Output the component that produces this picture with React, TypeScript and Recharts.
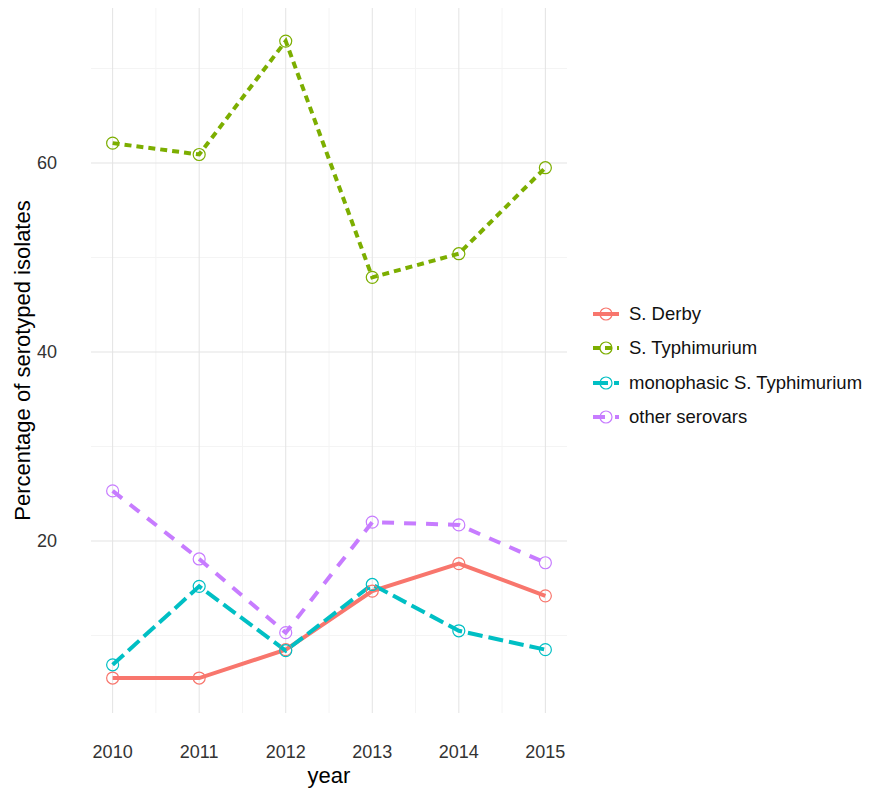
import { LineChart, Line, XAxis, YAxis, CartesianGrid, Legend } from 'recharts'

const years = [2010, 2011, 2012, 2013, 2014, 2015]
const derby = [5.5, 5.5, 8.5, 14.7, 17.6, 14.2]
const typhimurium = [62.1, 60.9, 72.9, 47.9, 50.4, 59.5]
const monophasic = [6.9, 15.2, 8.4, 15.4, 10.5, 8.5]
const otherSerovars = [25.3, 18.1, 10.3, 22.0, 21.7, 17.7]

const yTicks = [20, 40, 60]
const yMinor = [10, 30, 50, 70]
const xMinor = [2010.5, 2011.5, 2012.5, 2013.5, 2014.5]

const series = [
  { key: 'derby', name: 'S. Derby', color: '#F8766D', dash: undefined as string | undefined },
  { key: 'typhimurium', name: 'S. Typhimurium', color: '#7CAE00', dash: '7 5' },
  { key: 'monophasic', name: 'monophasic S. Typhimurium', color: '#00BFC4', dash: '15 6' },
  { key: 'other', name: 'other serovars', color: '#C77CFF', dash: '12 10' },
]

const data = years.map((year, i) => ({
  year,
  derby: derby[i],
  typhimurium: typhimurium[i],
  monophasic: monophasic[i],
  other: otherSerovars[i],
}))

const font = '"Liberation Sans", Arial, sans-serif'

function LegendBox() {
  return (
    <div style={{ fontFamily: font, fontSize: 18.5, color: '#111' }}>
      {series.map((s) => (
        <div key={s.key} style={{ display: 'flex', alignItems: 'center', height: 34.3 }}>
          <svg width={30} height={16} style={{ marginRight: 6 }}>
            <line x1={0} y1={8} x2={26} y2={8} stroke={s.color} strokeWidth={4} strokeDasharray={s.dash} />
            <circle cx={13} cy={8} r={6} fill="none" stroke={s.color} strokeWidth={1.2} />
          </svg>
          <span style={{ whiteSpace: 'nowrap' }}>{s.name}</span>
        </div>
      ))}
    </div>
  )
}

export default function App() {
  return (
    <div style={{ width: 865, height: 783, position: 'relative' }}>
      <LineChart width={865} height={783} data={data} margin={{ top: 0, right: 36, bottom: 0, left: 0 }}>
        <CartesianGrid
          stroke="#F4F4F4"
          strokeWidth={1}
          horizontalValues={yMinor}
          verticalValues={xMinor}
        />
        <CartesianGrid
          stroke="#E3E3E3"
          strokeWidth={1}
          horizontalValues={yTicks}
          verticalValues={years}
        />
        <XAxis
          dataKey="year"
          type="number"
          domain={[2009.75, 2015.25]}
          ticks={years}
          height={78}
          axisLine={false}
          tickLine={false}
          tickSize={0}
          tickMargin={32}
          tick={{ fontSize: 18, fill: '#333', fontFamily: font }}
          label={{
            content: ({ viewBox }: any) => (
              <text
                x={viewBox.x + viewBox.width / 2}
                y={775}
                textAnchor="middle"
                fontSize={22}
                fontFamily={font}
                fill="#000"
              >
                year
              </text>
            ),
          }}
        />
        <YAxis
          type="number"
          domain={[1.8, 76.4]}
          ticks={yTicks}
          width={83}
          axisLine={false}
          tickLine={false}
          tickSize={0}
          tickMargin={34}
          tick={{ fontSize: 18, fill: '#333', fontFamily: font }}
          label={{
            content: ({ viewBox }: any) => {
              const cy = viewBox.y + viewBox.height / 2
              return (
                <text
                  x={14}
                  y={cy}
                  transform={`rotate(-90, 14, ${cy})`}
                  textAnchor="middle"
                  dominantBaseline="central"
                  fontSize={22}
                  fontFamily={font}
                  fill="#000"
                >
                  Percentage of serotyped isolates
                </text>
              )
            },
          }}
        />
        <Legend
          layout="vertical"
          align="right"
          verticalAlign="middle"
          wrapperStyle={{ position: 'absolute', left: 585, top: 289, width: 270 }}
          content={() => <LegendBox />}
        />
        {series.map((s) => (
          <Line
            key={s.key}
            type="linear"
            dataKey={s.key}
            name={s.name}
            stroke={s.color}
            strokeWidth={4}
            strokeDasharray={s.dash}
            dot={{ r: 6, fill: 'none', stroke: s.color, strokeWidth: 1.2, strokeDasharray: 'none' }}
            activeDot={false}
            isAnimationActive={false}
          />
        ))}
      </LineChart>
    </div>
  )
}
